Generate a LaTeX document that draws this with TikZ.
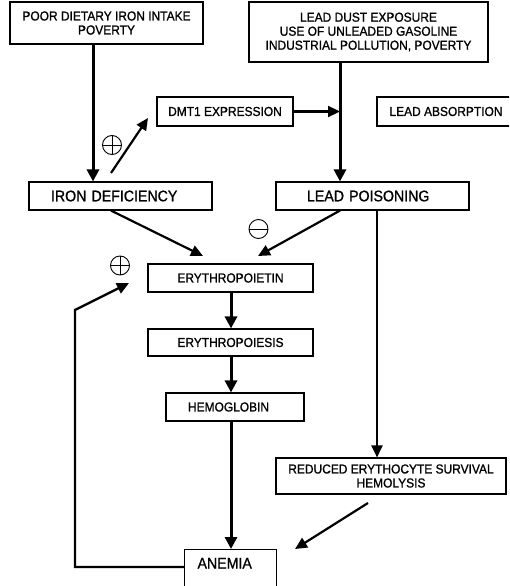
\documentclass[tikz,border=0pt]{standalone}
\usepackage{fontspec}
\setmainfont{Liberation Sans}[FakeStretch=0.92, FakeBold=1.0]
\usetikzlibrary{arrows.meta}
\begin{document}
\begin{tikzpicture}[x=1pt,y=-1pt,
  box/.style={draw, line width=1.1pt, inner sep=0pt, font=\fontsize{13}{14}\selectfont, align=center},
  one/.style={text height=8.9pt, text depth=0pt},
  bigbox/.style={box, font=\fontsize{15.4}{17}\selectfont, text height=10.6pt, text depth=0pt},
  thk/.style={line width=3pt, -{Triangle[length=12pt,width=12pt]}},
  mid/.style={line width=2.2pt, -{Triangle[length=12pt,width=11pt]}},
  sgn/.style={circle, draw, line width=0.9pt, minimum size=19pt, inner sep=0pt},
  plussign/.style={sgn, path picture={\draw[line width=0.9pt]
     (path picture bounding box.north) -- (path picture bounding box.south)
     (path picture bounding box.west) -- (path picture bounding box.east);}},
  minussign/.style={sgn, path picture={\draw[line width=0.9pt]
     (path picture bounding box.west) -- (path picture bounding box.east);}},
]
\clip (0,0) rectangle (509,586);
\fill[white] (0,0) rectangle (509,586);

% boxes
\node[box, minimum width=193, minimum height=42] (poor) at (106.5,23)
  {POOR DIETARY IRON INTAKE\\POVERTY};
\node[box, minimum width=239, minimum height=60] (lead) at (368.5,32)
  {LEAD DUST EXPOSURE\\USE OF UNLEADED GASOLINE\\INDUSTRIAL POLLUTION, POVERTY};
\node[box, one, minimum width=136, minimum height=29] (dmt) at (225,111.5) {DMT1 EXPRESSION};
\node[box, one, minimum width=138, minimum height=29] (abs) at (446,111.5) {LEAD ABSORPTION};
\node[bigbox, align=left, inner xsep=22pt, text width=139pt, minimum height=28] (iron) at (120.5,196) {IRON DEFICIENCY};
\node[bigbox, align=left, inner xsep=31pt, text width=131pt, minimum height=28] (pois) at (372.5,196) {LEAD POISONING};
\node[box, one, minimum width=165, minimum height=28] (epo) at (230.5,278) {ERYTHROPOIETIN};
\node[box, one, minimum width=165, minimum height=27] (epoi) at (230.5,342.5) {ERYTHROPOIESIS};
\node[box, one, align=left, inner xsep=22pt, text width=94pt, minimum height=28] (hgb) at (235,407) {HEMOGLOBIN};
\node[box, minimum width=230, minimum height=36] (red) at (391,476)
  {REDUCED ERYTHOCYTE SURVIVAL\\HEMOLYSIS};
\node[bigbox, anchor=north west, align=left, inner xsep=13pt, inner ysep=0pt, text width=66pt,
  text height=19pt, text depth=32pt] (anem) at (184,549) {ANEMIA};

% signs
\node[plussign] (p1) at (112,145) {};
\node[minussign] (m1) at (258.5,229) {};
\node[plussign] (p2) at (120,265.5) {};

% helper coordinates
\coordinate (x93) at (93,0);
\coordinate (x111) at (111,0);
\coordinate (x231) at (231,0);
\coordinate (x340) at (340,0);
\coordinate (x377) at (377,0);
\coordinate (d1) at (111,173);
\coordinate (d2) at (148,118);
\coordinate (e1) at (203,256);
\coordinate (e2) at (258,256);
\coordinate (r1) at (368,503);
\coordinate (r2) at (295,549);
\coordinate (y567) at (0,567);
\coordinate (f1) at (75,310);
\coordinate (f2) at (129,283);

% connectors
\draw[thk] (poor.south -| x93) -- (iron.north -| x93);
\draw[thk] (lead.south -| x340) -- (pois.north -| x340);
\draw[mid] (dmt.east) -- (dmt.east -| x340);
\draw[mid] (d1) -- (d2);
\draw[mid] (iron.south -| x111) -- (e1);
\draw[mid] (pois.south -| x340) -- (e2);
\draw[mid, line width=2.4pt] (pois.south -| x377) -- (red.north -| x377);
\draw[thk] (epo.south -| x231) -- (epoi.north -| x231);
\draw[thk] (epoi.south -| x231) -- (hgb.north -| x231);
\draw[thk] (hgb.south -| x231) -- (anem.north -| x231);
\draw[mid] (r1) -- (r2);
\draw[mid, line width=2.4pt] (anem.west |- y567) -| (f1) -- (f2);
\end{tikzpicture}
\end{document}
